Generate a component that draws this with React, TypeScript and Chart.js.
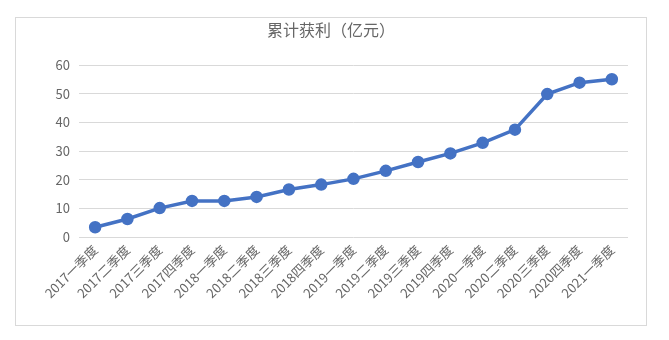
import React, { useEffect, useRef } from "react";
import { Chart, registerables } from "chart.js";

Chart.register(...registerables);

const categories = [
  "2017一季度", "2017二季度", "2017三季度", "2017四季度",
  "2018一季度", "2018二季度", "2018三季度", "2018四季度",
  "2019一季度", "2019二季度", "2019三季度", "2019四季度",
  "2020一季度", "2020二季度", "2020三季度", "2020四季度",
  "2021一季度",
];
const profit = [3.4, 6.3, 10.1, 12.6, 12.6, 14.0, 16.6, 18.3, 20.3, 23.1, 26.2, 29.2, 32.9, 37.5, 49.9, 53.9, 55.1];
const title = "累计获利（亿元）";

const FONT = "'Noto Sans CJK SC', 'Noto Sans', sans-serif";
const TEXT = "#666666";

const frame = {
  id: "frame",
  beforeDraw(chart: any) {
    const ctx = chart.ctx;
    ctx.save();
    ctx.fillStyle = "#ffffff";
    ctx.fillRect(0, 0, chart.width, chart.height);
    ctx.strokeStyle = "#d9d9d9";
    ctx.lineWidth = 1;
    ctx.strokeRect(15.5, 17.5, 631, 308);
    ctx.restore();
  },
};

export default function App() {
  const ref = useRef<HTMLCanvasElement>(null);
  useEffect(() => {
    const chart = new Chart(ref.current!, {
      type: "line",
      data: {
        labels: categories,
        datasets: [
          {
            data: profit,
            borderColor: "#4472C4",
            backgroundColor: "#4472C4",
            borderWidth: 3.5,
            pointRadius: 4.5,
            pointBackgroundColor: "#4472C4",
            pointBorderColor: "#4472C4",
            tension: 0,
          },
        ],
      },
      options: {
        animation: false,
        responsive: false,
        layout: { padding: { left: 15, right: 22, top: 17, bottom: 0 } },
        plugins: {
          legend: { display: false },
          tooltip: { enabled: false },
          title: {
            display: true,
            text: title,
            color: TEXT,
            font: { family: FONT, size: 16, weight: "normal", lineHeight: 1.2 },
            padding: { top: 3, bottom: 26 },
          },
        },
        scales: {
          x: {
            offset: true,
            grid: { display: false, drawTicks: false },
            border: { display: false },
            ticks: {
              color: TEXT,
              font: { family: FONT, size: 13 },
              minRotation: 45,
              maxRotation: 45,
              autoSkip: false,
              padding: 5,
            },
            afterFit: (s: any) => { s.height = 103; },
          },
          y: {
            min: 0,
            max: 60,
            grid: { color: "#d9d9d9", drawTicks: false },
            border: { display: false },
            ticks: {
              stepSize: 10,
              color: TEXT,
              font: { family: FONT, size: 13 },
              padding: 9,
            },
            afterFit: (s: any) => { s.width = 64; },
          },
          y2: {
            position: "right",
            min: 0,
            max: 60,
            grid: { display: false, drawTicks: false },
            border: { display: false },
            ticks: { display: false },
            afterFit: (s: any) => { s.width = 19; },
          },
        },
      },
      plugins: [frame],
    });
    return () => chart.destroy();
  }, []);
  return (
    <div style={{ position: "fixed", left: 0, top: 0, width: 669, height: 340 }}>
      <canvas ref={ref} width={669} height={340} style={{ width: 669, height: 340 }} />
    </div>
  );
}
